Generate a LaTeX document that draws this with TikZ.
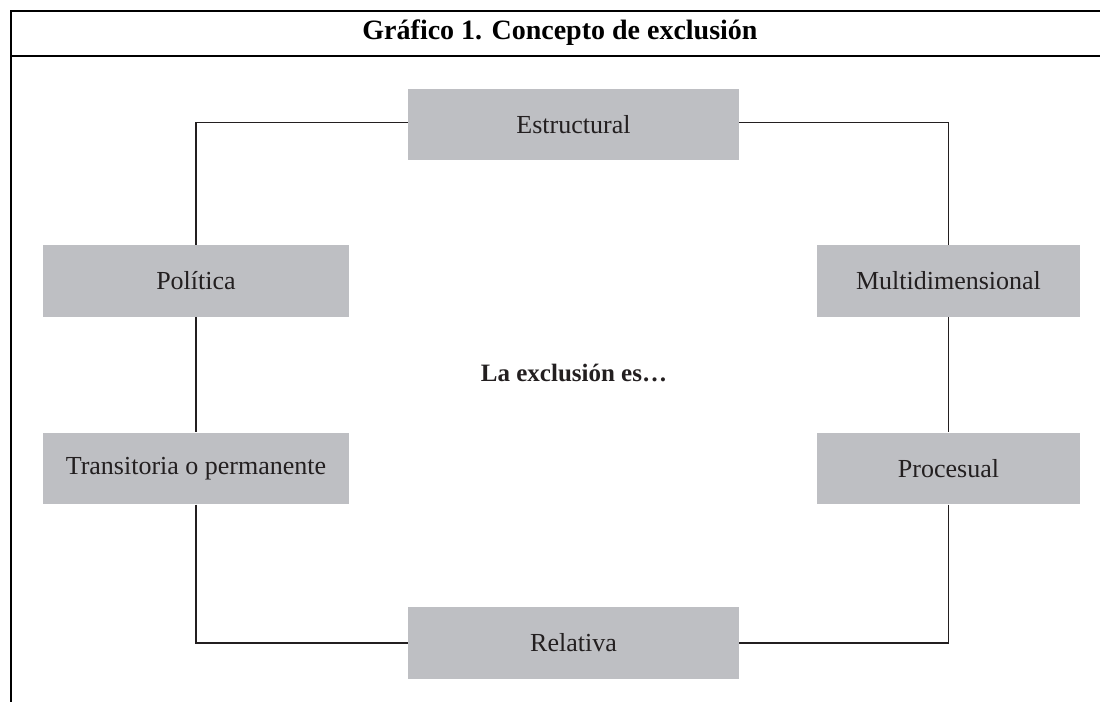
\documentclass[tikz,border=0pt]{standalone}
\usepackage{fontspec}
\setmainfont{Liberation Serif}
\definecolor{grisCaja}{RGB}{190,191,195}
\definecolor{tinta}{RGB}{35,31,32}
\tikzset{
    caja/.style={fill=grisCaja, inner sep=0pt, minimum height=35.75pt,
        text=tinta, font=\fontsize{13}{15}\selectfont},
    enlace/.style={draw=tinta, line width=0.7pt},
    marco/.style={draw=black, line width=1.3pt}
}
\begin{document}
\begin{tikzpicture}[x=0.5pt, y=-0.5pt]
    \useasboundingbox (0,0) rectangle (1100,702);
    % marco y titulo
    \draw[marco] (1100,11) -- (11,11) -- (11,702);
    \draw[marco] (11,56) -- (1100,56);
    \node[text=black, font=\bfseries\fontsize{14}{16}\selectfont] (titulo) at (560,33) {Gráfico 1. Concepto de exclusión};
    % cajas
    \node[caja, minimum width=165.5pt] (est) at (573.5,124.5) {Estructural};
    \node[caja, minimum width=153pt] (pol) at (196,281) {Política};
    \node[caja, minimum width=131.5pt] (mul) at (948.5,281) {Multidimensional};
    \node[caja, minimum width=153pt] (tra) at (196,468.5) {Transitoria o permanente};
    \node[caja, minimum width=131.5pt] (pro) at (948.5,468.5) {Procesual};
    \node[caja, minimum width=165.5pt] (rel) at (573.5,643) {Relativa};
    \node[text=tinta, font=\bfseries\fontsize{12.5}{15}\selectfont] (centro) at (574,373) {La exclusión es…};
    % enlaces
    \draw[enlace] ([yshift=1pt]est.west) -| (pol.north);
    \draw[enlace] ([yshift=1pt]est.east) -| (mul.north);
    \draw[enlace] (pol.south) -- (tra.north);
    \draw[enlace] (mul.south) -- (pro.north);
    \draw[enlace] (tra.south) |- (rel.west);
    \draw[enlace] (pro.south) |- (rel.east);
\end{tikzpicture}
\end{document}
